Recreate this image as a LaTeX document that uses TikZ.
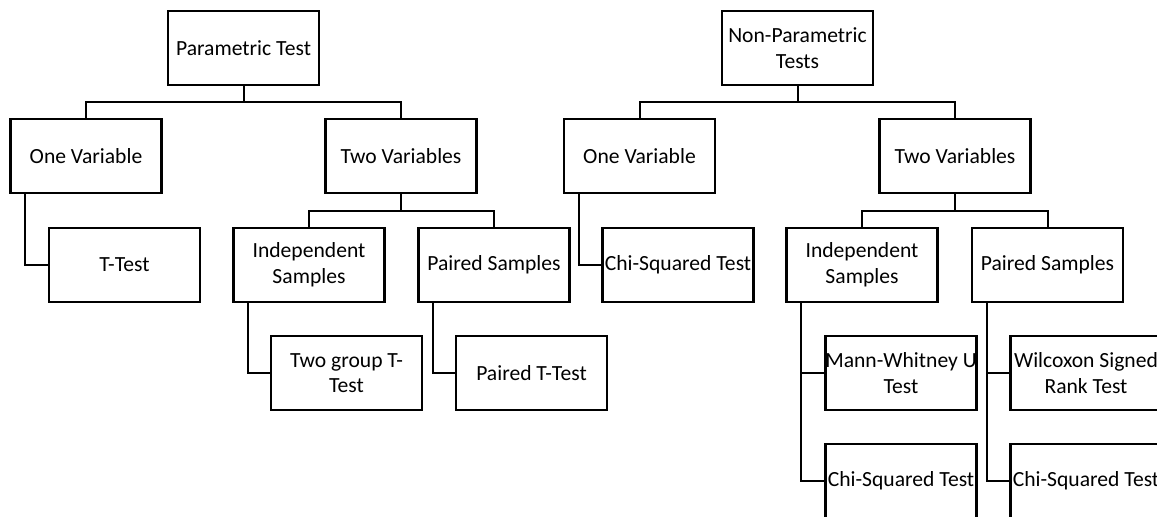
\documentclass[tikz,border=0pt]{standalone}
\usepackage{fontspec}
\setmainfont{Carlito}
\usetikzlibrary{calc}
\begin{document}
\begin{tikzpicture}[x=0.75pt,y=-0.75pt,
  box/.style={draw,line width=1.8pt,minimum width=113pt,minimum height=55.5pt,inner sep=0pt,align=center,font=\fontsize{16.2}{19.2}\selectfont},
  link/.style={line width=1.5pt}]
\useasboundingbox (0,0) rectangle (1157,517);
\clip (0,0) rectangle (1157,517);
% left tree
\node[box] (PT) at (243.5,48) {Parametric Test};
\node[box] (OV1) at (86,156) {One Variable};
\node[box] (TV1) at (401,156) {Two Variables};
\node[box] (T) at (124.5,265) {T-Test};
\node[box] (IS1) at (309,265) {Independent\\Samples};
\node[box] (PS1) at (494,265) {Paired Samples};
\node[box] (TG) at (346.5,373) {Two group T-\\Test};
\node[box] (PTT) at (531.5,373) {Paired T-Test};
% right tree
\node[box] (NPT) at (797.5,48) {Non-Parametric\\Tests};
\node[box] (OV2) at (639.5,156) {One Variable};
\node[box] (TV2) at (955,156) {Two Variables};
\node[box] (CS1) at (678,265) {Chi-Squared Test};
\node[box] (IS2) at (862,265) {Independent\\Samples};
\node[box] (PS2) at (1047.5,265) {Paired Samples};
\node[box] (MW) at (901,373) {Mann-Whitney U\\Test};
\node[box] (CS2) at (901,481) {Chi-Squared Test};
\node[box] (WS) at (1086,373) {Wilcoxon Signed\\Rank Test};
\node[box] (CS3) at (1086,481) {Chi-Squared Test};
% connectors left
\draw[link] (OV1.north) -- ++(0,-16) coordinate (h1) -| (TV1.north);
\draw[link] (PT.south) -- (PT.south |- h1);
\draw[link] (IS1.north) -- ++(0,-16) coordinate (h2) -| (PS1.north);
\draw[link] (TV1.south) -- (TV1.south |- h2);
\coordinate (s1) at ($(OV1.south west)+(16,0)$);
\draw[link] (s1) |- (T.west);
\coordinate (s2) at ($(IS1.south west)+(16,0)$);
\draw[link] (s2) |- (TG.west);
\coordinate (s3) at ($(PS1.south west)+(16,0)$);
\draw[link] (s3) |- (PTT.west);
% connectors right
\draw[link] (OV2.north) -- ++(0,-16) coordinate (h3) -| (TV2.north);
\draw[link] (NPT.south) -- (NPT.south |- h3);
\draw[link] (IS2.north) -- ++(0,-16) coordinate (h4) -| (PS2.north);
\draw[link] (TV2.south) -- (TV2.south |- h4);
\coordinate (s4) at ($(OV2.south west)+(16,0)$);
\draw[link] (s4) |- (CS1.west);
\coordinate (s5) at ($(IS2.south west)+(16,0)$);
\draw[link] (s5) |- (CS2.west);
\draw[link] (s5 |- MW.west) -- (MW.west);
\coordinate (s6) at ($(PS2.south west)+(16,0)$);
\draw[link] (s6) |- (CS3.west);
\draw[link] (s6 |- WS.west) -- (WS.west);
\end{tikzpicture}
\end{document}
